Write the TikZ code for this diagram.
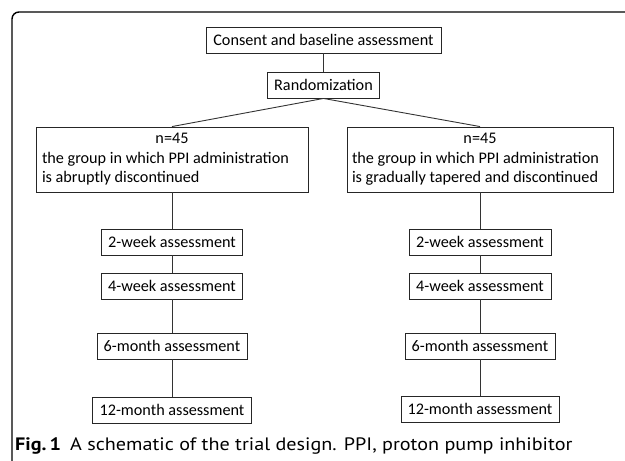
\documentclass[tikz,border=0pt]{standalone}
\usepackage{fontspec}
\setmainfont{Carlito}
\newfontfamily\capfont[FakeStretch=1.12]{PT Sans}
\begin{document}
\begin{tikzpicture}[x=1pt,y=-1pt,
  box/.style={draw=black!85,line width=0.9pt,inner sep=0pt,minimum height=26pt,
    font=\fontsize{16.2}{19.6}\selectfont},
  grp/.style={draw=black!85,line width=0.9pt,inner sep=0pt,minimum height=65pt,
    font=\fontsize{16.2}{19.6}\selectfont,align=center},
  link/.style={draw=black!80,line width=0.9pt}]
\useasboundingbox (0,0) rectangle (625,461);
% frame
\begin{scope}
\clip (0,0) rectangle (625,461);
\draw[line width=1.4pt,rounded corners=7pt] (640,12) -- (12,12) -- (12,468) -- (640,468);
\end{scope}
% nodes
\node[box,minimum width=235pt] (cons) at (323.5,40) {Consent and baseline assessment};
\node[box,minimum width=112pt] (rand) at (323.5,85) {Randomization};
\node[grp,minimum width=272pt] (lg) at (172,159.5)
  {n=45\\\makebox[260pt][l]{the group in which PPI administration}\\\makebox[260pt][l]{is abruptly discontinued}};
\node[grp,minimum width=266pt] (rg) at (480,159.5)
  {n=45\\\makebox[256pt][l]{the group in which PPI administration}\\\makebox[256pt][l]{is gradually tapered and discontinued}};
\node[box,minimum width=141pt] (l2) at (172,242) {2-week assessment};
\node[box,minimum width=141pt] (l4) at (172,286) {4-week assessment};
\node[box,minimum width=150pt] (l6) at (172,346) {6-month assessment};
\node[box,minimum width=159pt] (l12) at (172,410) {12-month assessment};
\node[box,minimum width=142pt] (r2) at (480,242) {2-week assessment};
\node[box,minimum width=142pt] (r4) at (480,286) {4-week assessment};
\node[box,minimum width=150pt] (r6) at (480,346) {6-month assessment};
\node[box,minimum width=158pt] (r12) at (480,409) {12-month assessment};
% caption
\node[anchor=base west,inner sep=0pt,font=\capfont\fontsize{18}{21}\selectfont] (cap) at (15,450)
  {\makebox[55pt][l]{\textbf{Fig.\,1}}A schematic of the trial design. PPI, proton pump inhibitor};
% connectors
\draw[link] (cons) -- (rand);
\draw[link] (rand.south) -- (lg.north);
\draw[link] (rand.south) -- (rg.north);
\draw[link] (lg) -- (l2);
\draw[link] (l2) -- (l4);
\draw[link] (l4) -- (l6);
\draw[link] (l6) -- (l12);
\draw[link] (rg) -- (r2);
\draw[link] (r2) -- (r4);
\draw[link] (r4) -- (r6);
\draw[link] (r6) -- (r12);
\end{tikzpicture}
\end{document}
